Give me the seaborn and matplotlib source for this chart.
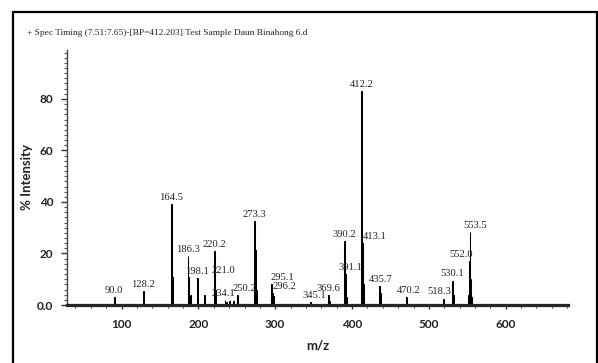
import numpy as np
import pandas as pd
import matplotlib
matplotlib.use("Agg")
import matplotlib.pyplot as plt
from matplotlib.patches import Rectangle
from matplotlib.ticker import AutoMinorLocator
import seaborn as sns

# labelled peaks (m/z, % intensity)
peak_mz = [90.0, 128.2, 164.5, 186.3, 198.1, 220.2, 221.0, 234.1, 250.2, 273.3,
           295.1, 296.2, 345.1, 369.6, 390.2, 391.1, 412.2, 413.1, 435.7, 470.2,
           518.3, 530.1, 552.0, 553.5]
peak_int = [3.0, 5.3, 39.3, 19.0, 10.5, 21.0, 11.0, 1.8, 4.0, 32.5,
            8.0, 4.5, 1.0, 4.0, 25.0, 12.0, 83.0, 24.0, 7.5, 3.0,
            2.5, 9.5, 17.0, 28.5]
peak_labels = ["90.0", "128.2", "164.5", "186.3", "198.1", "220.2", "221.0", "234.1",
               "250.2", "273.3", "295.1", "296.2", "345.1", "369.6", "390.2", "391.1",
               "412.2", "413.1", "435.7", "470.2", "518.3", "530.1", "552.0", "553.5"]

# smaller unlabelled neighbours (isotopes / shoulders)
minor_mz = [165.5, 166.5, 187.3, 189.2, 199.2, 207.1, 208.2, 222.1, 236.0, 240.2,
            245.1, 251.2, 274.3, 275.3, 294.2, 297.2, 370.6, 389.2, 392.1, 411.2,
            414.1, 436.7, 471.2, 519.3, 531.1, 551.0, 554.5, 555.5]
minor_int = [19.3, 11.0, 11.0, 4.0, 2.0, 3.7, 2.0, 6.0, 1.2, 1.5,
             1.5, 3.0, 21.5, 6.0, 3.0, 3.5, 1.5, 2.5, 3.0, 1.0,
             8.0, 4.5, 1.0, 1.5, 4.0, 4.0, 10.0, 3.0]

# label nudges (m/z units) where the instrument software moved a label sideways
label_dx = [0, 0, 0, 0, 0, 0, 12, -2, 9, 0,
            14, 16, 5.5, 0, 0, 6.5, 0, 16, 2, 3,
            -5, 0, -10, 6.5]

df = pd.DataFrame({"mz": peak_mz + minor_mz, "intensity": peak_int + minor_int})

sns.set_theme(style="ticks")
W, H = 598, 363
fig = plt.figure(figsize=(W / 100, H / 100), dpi=100)
ax = fig.add_axes([67 / W, 1 - 305 / H, (568 - 67) / W, (305 - 50) / H])

sns.histplot(data=df, x="mz", weights="intensity", binwidth=1, binrange=(29, 681),
             color="black", edgecolor="black", linewidth=0.75, alpha=1, ax=ax)

for mz, it, lab, dx in zip(peak_mz, peak_int, peak_labels, label_dx):
    ax.text(mz + dx, it + 0.8, lab, ha="center", va="bottom", fontsize=7.6,
            family="Liberation Serif", color="#222222")

ax.set_xlim(29, 681)
ax.set_ylim(0, 99)
ax.set_xticks([100, 200, 300, 400, 500, 600])
ax.set_yticks([0, 20, 40, 60, 80])
ax.set_yticklabels(["0.0", "20", "40", "60", "80"])
ax.xaxis.set_minor_locator(AutoMinorLocator(5))
ax.yaxis.set_minor_locator(AutoMinorLocator(10))

tick_font = dict(family="Lato", weight="bold", size=8.5)
for lab in ax.get_xticklabels() + ax.get_yticklabels():
    lab.set_fontproperties(matplotlib.font_manager.FontProperties(**tick_font))
    lab.set_color("#222222")

ax.tick_params(axis="x", which="major", length=3, width=1, pad=7, color="#333333")
ax.tick_params(axis="x", which="minor", length=2, width=0.8, color="#555555")
ax.tick_params(axis="y", which="major", length=4, width=1, pad=6, color="#333333")
ax.tick_params(axis="y", which="minor", length=2.5, width=0.8, color="#555555")

ax.set_xlabel("m/z", family="Lato", weight="bold", fontsize=9.5, labelpad=7, color="#222222")
ax.set_ylabel("% Intensity", family="Lato", weight="bold", fontsize=9.5, labelpad=3, color="#222222")

sns.despine(ax=ax)
ax.spines["bottom"].set_linewidth(2.3)
ax.spines["left"].set_linewidth(1.0)
ax.spines["left"].set_color("#444444")

fig.text(27 / W, 1 - 33 / H,
         "+ Spec Timing (7.51:7.65)-[BP=412.203] Test Sample Daun Binahong 6.d",
         family="Liberation Serif", fontsize=6.75, va="center", ha="left", color="#222222")

fig.add_artist(Rectangle((13 / W, -0.05), (597 - 13) / W, (H - 12) / H + 0.05,
                         transform=fig.transFigure, fill=False, lw=1.6, color="black"))

fig.savefig("out.png", dpi=100)
